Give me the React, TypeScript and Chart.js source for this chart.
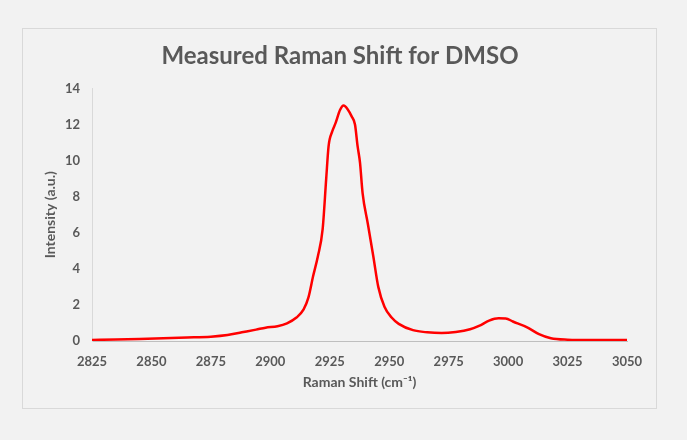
import { useEffect, useRef } from 'react';
import { Chart, registerables } from 'chart.js';

Chart.register(...registerables);

// Raman shift (cm-1) and measured intensity (a.u.)
const ramanShift = [
  2825, 2835, 2845, 2855, 2865, 2875, 2882, 2888, 2894, 2898, 2903, 2907, 2911, 2914, 2916,
  2918, 2920, 2922, 2923.5, 2924.5, 2926, 2927.5, 2929.3, 2930.8, 2932.5, 2934.2, 2935.6,
  2936.7, 2937.7, 2938.8, 2941, 2943.3, 2945.4, 2948, 2951, 2954, 2960, 2966, 2972, 2978,
  2984, 2988, 2992, 2996, 2999, 3002, 3008, 3013, 3018, 3025, 3035, 3050,
];
const intensity = [
  0.06, 0.08, 0.11, 0.15, 0.19, 0.24, 0.33, 0.48, 0.63, 0.74, 0.82, 0.98, 1.3, 1.75, 2.4,
  3.6, 4.7, 6.2, 9.0, 10.8, 11.6, 12.1, 12.8, 13.05, 12.85, 12.45, 12.0,
  10.8, 9.9, 8.2, 6.5, 4.7, 3.0, 1.9, 1.3, 0.95, 0.6, 0.48, 0.44, 0.5,
  0.65, 0.85, 1.13, 1.26, 1.25, 1.08, 0.76, 0.38, 0.15, 0.07, 0.05, 0.05,
];

const xMin = 2825;
const xMax = 3050;
const xStep = 25;
const yMin = 0;
const yMax = 14;
const yStep = 2;

const textGray = '#595959';
const fontFamily = 'Lato, "Open Sans", sans-serif';

export default function App() {
  const canvasRef = useRef<HTMLCanvasElement>(null);

  useEffect(() => {
    if (!canvasRef.current) return;

    const chart = new Chart(canvasRef.current, {
      type: 'line',
      data: {
        datasets: [
          {
            label: 'DMSO',
            data: ramanShift.map((x, i) => ({ x, y: intensity[i] })),
            borderColor: '#ff0000',
            borderWidth: 2.5,
            pointRadius: 0,
            fill: false,
            cubicInterpolationMode: 'monotone',
          },
        ],
      },
      options: {
        responsive: true,
        maintainAspectRatio: false,
        animation: false,
        layout: {
          // symmetric so the title centres on the whole box
          padding: { left: 20, right: 19, top: 0, bottom: 0 },
        },
        scales: {
          x: {
            type: 'linear',
            min: xMin,
            max: xMax,
            afterFit: (scale) => {
              scale.height = 67;
            },
            grid: { display: false, drawTicks: false },
            border: { display: true, color: '#bfbfbf', width: 1 },
            ticks: {
              stepSize: xStep,
              color: textGray,
              padding: 13,
              font: { family: fontFamily, size: 13, weight: 'bold' },
              callback: (v) => String(v),
            },
            title: {
              display: true,
              text: 'Raman Shift (cm⁻¹)',
              color: textGray,
              padding: { top: 0, bottom: 17 },
              font: { family: fontFamily, size: 14, weight: 'bold' },
            },
          },
          y: {
            min: yMin,
            max: yMax,
            afterFit: (scale) => {
              scale.width = 49;
            },
            grid: { display: false, drawTicks: false },
            border: { display: true, color: '#d9d9d9', width: 1 },
            ticks: {
              stepSize: yStep,
              color: textGray,
              padding: 12,
              font: { family: fontFamily, size: 13, weight: 'bold' },
              callback: (v) => String(v),
            },
            title: {
              display: true,
              text: 'Intensity (a.u.)',
              color: textGray,
              padding: { top: -1, bottom: 0 },
              font: { family: fontFamily, size: 14, weight: 'bold' },
            },
          },
          // empty spacer on the right, keeps the plot where the reference has it
          spacer: {
            type: 'linear',
            position: 'right',
            display: true,
            afterFit: (scale) => {
              scale.width = 10;
            },
            grid: { display: false, drawTicks: false },
            border: { display: false },
            ticks: { display: false },
          },
        },
        plugins: {
          legend: { display: false },
          tooltip: { enabled: false },
          title: {
            display: true,
            text: 'Measured Raman Shift for DMSO',
            color: textGray,
            padding: { top: 14, bottom: 19 },
            font: { family: fontFamily, size: 24, weight: 'bold', lineHeight: 1.1 },
          },
        },
      },
    });

    return () => chart.destroy();
  }, []);

  return (
    <div
      style={{
        position: 'fixed',
        left: 0,
        top: 0,
        width: 687,
        height: 440,
        background: '#f2f2f2',
      }}
    >
      <div
        style={{
          position: 'absolute',
          left: 22,
          top: 28,
          width: 633,
          height: 379,
          border: '1px solid #d9d9d9',
        }}
      >
        <canvas ref={canvasRef} />
      </div>
    </div>
  );
}
